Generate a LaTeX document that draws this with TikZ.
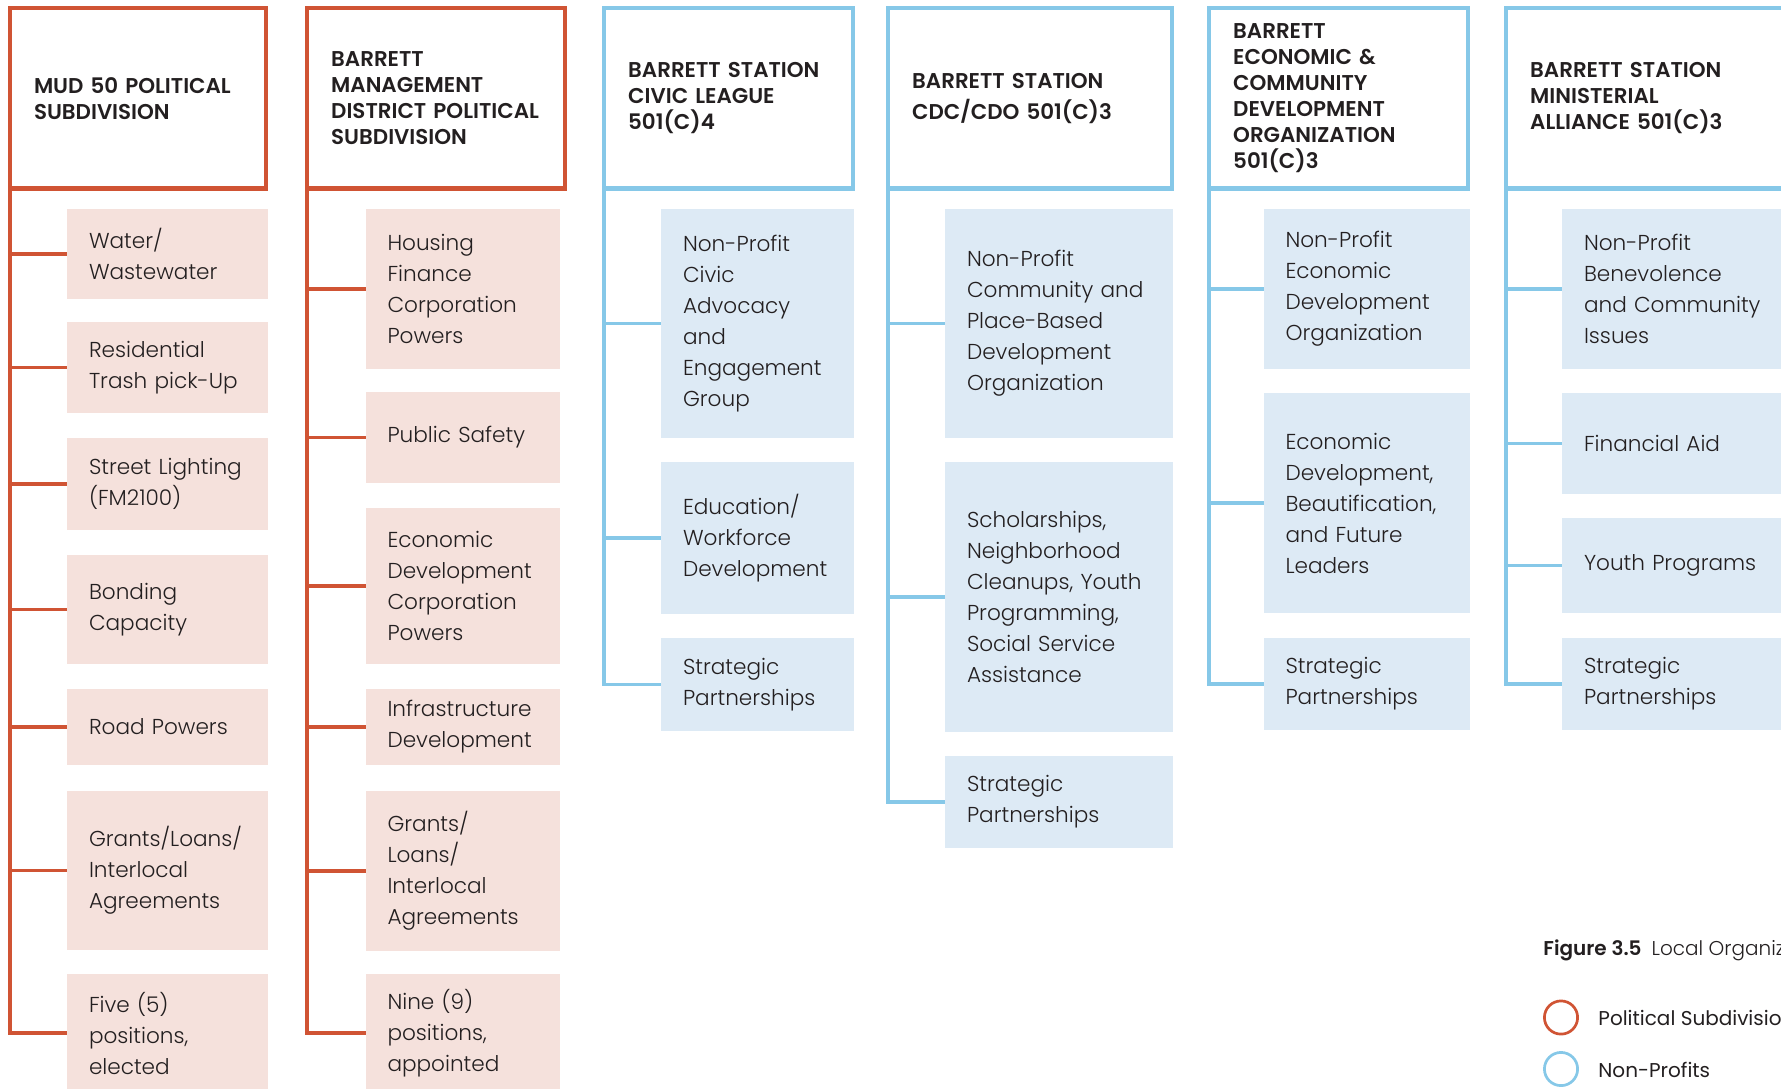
\documentclass[tikz,border=0pt]{standalone}
\usepackage{fontspec}
\setmainfont{Poppins}[UprightFont={* Light},BoldFont={* SemiBold}]
\newfontfamily\legendfont{Poppins}
\usetikzlibrary{calc}
\hyphenpenalty=10000
\exhyphenpenalty=10000

\definecolor{subred}{RGB}{208,84,52}
\definecolor{subpink}{RGB}{245,225,220}
\definecolor{npblue}{RGB}{134,200,232}
\definecolor{nplight}{RGB}{221,234,245}
\definecolor{inktext}{RGB}{35,31,32}

\begin{document}
\begin{tikzpicture}[x=0.5pt,y=-0.5pt]
% Header boxes, item boxes and the lines that join them.
\tikzstyle{headbox}=[outer sep=0pt,anchor=north west,minimum height=90.25pt,inner xsep=12pt,
align=left,text=inktext,font={\fontsize{10.7}{13}\selectfont\bfseries}]
\tikzstyle{redbox}=[headbox,draw=subred,line width=2.2pt]
\tikzstyle{bluebox}=[headbox,draw=npblue,line width=2.2pt]
\tikzstyle{itembox}=[outer sep=0pt,anchor=north west,inner xsep=11pt,
align=left,text=inktext,font={\fontsize{10.8}{15.5}\selectfont}]
\tikzstyle{pinkitem}=[itembox,fill=subpink]
\tikzstyle{blueitem}=[itembox,fill=nplight]
\tikzstyle{redline}=[draw=subred,line width=1.8pt]
\tikzstyle{blueline}=[draw=npblue,line width=1.8pt]
\tikzstyle{legendring}=[circle,line width=1.35pt,minimum size=16.6pt,inner sep=0pt]

\useasboundingbox (0,0) rectangle (1781,1088);
\clip (0,0) rectangle (1781,1088);

% This draws the MUD 50 column.
\node[redbox,minimum width=127.9pt,text width=103.9pt] (mud) at (10,8) {MUD 50 POLITICAL\\SUBDIVISION};
\begin{scope}[every node/.append style={minimum width=100.5pt,text width=78.5pt}]
\node[pinkitem,minimum height=45pt] (c11) at (67,209) {Water/\\Wastewater};
\node[pinkitem,minimum height=45.5pt] (c12) at (67,322) {Residential\\Trash pick-Up};
\node[pinkitem,minimum height=46pt] (c13) at (67,438) {Street Lighting\\(FM2100)};
\node[pinkitem,minimum height=54.5pt] (c14) at (67,555) {Bonding\\Capacity};
\node[pinkitem,minimum height=38pt] (c15) at (67,689) {Road Powers};
\node[pinkitem,minimum height=79.5pt] (c16) at (67,791) {Grants/Loans/\\Interlocal\\Agreements};
\node[pinkitem,minimum height=59pt] (c17) at (67,974) {Five (5)\\positions,\\elected};
\end{scope}
\draw[redline] (mud.south west) |- (c17.west)
  (mud.south west |- c11.west) -- (c11.west)
  (mud.south west |- c12.west) -- (c12.west)
  (mud.south west |- c13.west) -- (c13.west)
  (mud.south west |- c14.west) -- (c14.west)
  (mud.south west |- c15.west) -- (c15.west)
  (mud.south west |- c16.west) -- (c16.west);

% This draws the management district column.
\node[redbox,minimum width=128.8pt,text width=104.8pt] (bmd) at (307.2,8) {BARRETT\\MANAGEMENT\\DISTRICT~POLITICAL\\SUBDIVISION};
\begin{scope}[every node/.append style={minimum width=97pt,text width=75pt}]
\node[pinkitem,minimum height=80pt] (c21) at (365.5,209) {Housing\\Finance\\Corporation\\Powers};
\node[pinkitem,minimum height=45.5pt] (c22) at (365.5,392) {Public Safety};
\node[pinkitem,minimum height=78pt] (c23) at (365.5,508) {Economic\\Development\\Corporation\\Powers};
\node[pinkitem,minimum height=38pt] (c24) at (365.5,689) {Infrastructure\\Development};
\node[pinkitem,minimum height=80pt] (c25) at (365.5,791) {Grants/\\Loans/\\Interlocal\\Agreements};
\node[pinkitem,minimum height=59pt] (c26) at (365.5,974) {Nine (9)\\positions,\\appointed};
\end{scope}
\draw[redline] (bmd.south west) |- (c26.west)
  (bmd.south west |- c21.west) -- (c21.west)
  (bmd.south west |- c22.west) -- (c22.west)
  (bmd.south west |- c23.west) -- (c23.west)
  (bmd.south west |- c24.west) -- (c24.west)
  (bmd.south west |- c25.west) -- (c25.west);

% This draws the civic league column.
\node[bluebox,minimum width=124.3pt,text width=100.3pt] (civic) at (604.2,8) {BARRETT STATION\\CIVIC LEAGUE\\501(C)4};
\begin{scope}[every node/.append style={minimum width=96.5pt,text width=74.5pt}]
\node[blueitem,minimum height=114.5pt] (c31) at (661,209) {Non-Profit\\Civic\\Advocacy\\and\\Engagement\\Group};
\node[blueitem,minimum height=76pt] (c32) at (661,462) {Education/\\Workforce\\Development};
\node[blueitem,minimum height=46.5pt] (c33) at (661,638) {Strategic\\Partnerships};
\end{scope}
\draw[blueline] (civic.south west) |- (c33.west)
  (civic.south west |- c31.west) -- (c31.west)
  (civic.south west |- c32.west) -- (c32.west);

% This draws the CDC/CDO column.
\node[bluebox,minimum width=141.8pt,text width=117.8pt] (cdc) at (888.2,8) {BARRETT STATION\\[2.5pt]CDC/CDO 501(C)3};
\begin{scope}[every node/.append style={minimum width=114pt,text width=92pt}]
\node[blueitem,minimum height=114.5pt] (c41) at (945,209) {Non-Profit\\Community and\\Place-Based\\Development\\Organization};
\node[blueitem,minimum height=135pt] (c42) at (945,462) {Scholarships,\\Neighborhood\\Cleanups, Youth\\Programming,\\Social Service\\Assistance};
\node[blueitem,minimum height=46pt] (c43) at (945,756) {Strategic\\Partnerships};
\end{scope}
\draw[blueline] (cdc.south west) |- (c43.west)
  (cdc.south west |- c41.west) -- (c41.west)
  (cdc.south west |- c42.west) -- (c42.west);

% This draws the economic & community development column.
\node[bluebox,minimum width=129.3pt,text width=105.3pt] (becdo) at (1209.2,8) {BARRETT\\ECONOMIC \&\\COMMUNITY\\DEVELOPMENT\\ORGANIZATION\\501(C)3};
\begin{scope}[every node/.append style={minimum width=103.25pt,text width=81.25pt}]
\node[blueitem,minimum height=80pt] (c51) at (1263.5,209) {Non-Profit\\Economic\\Development\\Organization};
\node[blueitem,minimum height=110pt] (c52) at (1263.5,393) {Economic\\Development,\\Beautification,\\and Future\\Leaders};
\node[blueitem,minimum height=46pt] (c53) at (1263.5,638) {Strategic\\Partnerships};
\end{scope}
\draw[blueline] (becdo.south west) |- (c53.west)
  (becdo.south west |- c51.west) -- (c51.west)
  (becdo.south west |- c52.west) -- (c52.west);

% This draws the ministerial alliance column.
\node[bluebox,minimum width=150pt,text width=126pt] (bsma) at (1506.2,8) {BARRETT STATION\\MINISTERIAL\\ALLIANCE 501(C)3};
\begin{scope}[every node/.append style={minimum width=120pt,text width=98pt}]
\node[blueitem,minimum height=80pt] (c61) at (1562,209) {Non-Profit\\Benevolence\\and Community\\Issues};
\node[blueitem,minimum height=50.5pt] (c62) at (1562,393) {Financial Aid};
\node[blueitem,minimum height=47.5pt] (c63) at (1562,518) {Youth Programs};
\node[blueitem,minimum height=46pt] (c64) at (1562,638) {Strategic\\Partnerships};
\end{scope}
\draw[blueline] (bsma.south west) |- (c64.west)
  (bsma.south west |- c61.west) -- (c61.west)
  (bsma.south west |- c62.west) -- (c62.west)
  (bsma.south west |- c63.west) -- (c63.west);

% This draws the caption and the legend.
\node[anchor=base west,inner sep=0pt,text=inktext,font=\fontsize{10}{12}\selectfont] (fig) at (1543,955)
  {\textbf{Figure 3.5}\hspace{5pt}Local Organizations};
\node[legendring,draw=subred] (cpol) at (1561,1017.5) {};
\node[legendring,draw=npblue] (cnp) at (1561,1069) {};
\node[anchor=base west,inner sep=0pt,text=inktext,font=\fontsize{10}{12}\legendfont] (lpol) at (1598,1025) {Political Subdivisions};
\node[anchor=base west,inner sep=0pt,text=inktext,font=\fontsize{10}{12}\legendfont] (lnp) at (1598,1077) {Non-Profits};
\end{tikzpicture}
\end{document}
